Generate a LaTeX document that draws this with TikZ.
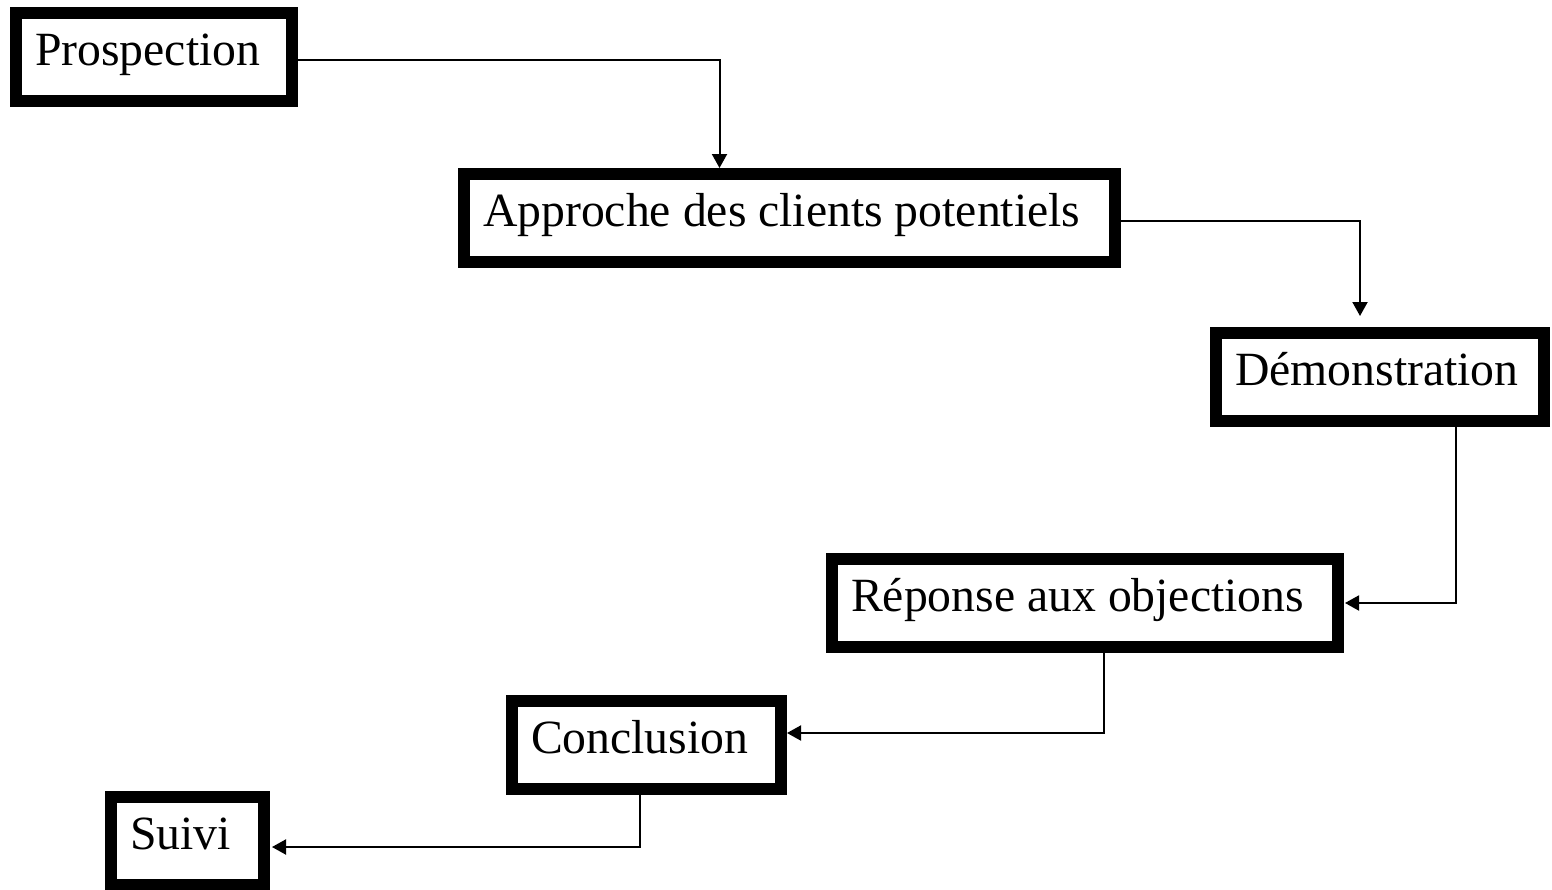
\documentclass[tikz,border=0pt]{standalone}
\usepackage{fontspec}
\setmainfont{Liberation Serif}
\usepackage{tikz}
\usetikzlibrary{arrows.meta}

\begin{document}
\begin{tikzpicture}[x=1pt, y=-1pt,
        etape/.style={draw, line width=12pt, anchor=north west, align=flush left,
            inner xsep=19pt, inner ysep=10pt, text height=42pt, text depth=26pt,
            font=\fontsize{47.7pt}{57pt}\selectfont},
        fleche/.style={line width=2pt, -{Triangle[length=14pt, width=15pt]}}]
    \useasboundingbox (0,0) rectangle (1552,889);
    % les etapes
    \node[etape, text width=238pt] (prosp) at (10,7) {Prospection};
    \node[etape, text width=613pt] (approche) at (458,168) {Approche des clients potentiels};
    \node[etape, text width=290pt] (demo) at (1210,327) {Démonstration};
    \node[etape, text width=468pt] (reponse) at (826,553) {Réponse aux objections};
    \node[etape, text width=231pt] (conclu) at (506,695) {Conclusion};
    \node[etape, text width=115pt] (suivi) at (105,791) {Suivi};
    % liaisons entre etapes
    \draw[fleche] ([yshift=-3pt]prosp.east) -| ([xshift=-70pt]approche.north);
    \draw[fleche, shorten >=11pt] ([yshift=-3pt]approche.east) -| ([xshift=-20pt]demo.north);
    \draw[fleche, shorten >=1pt] ([xshift=76pt]demo.south) |- (reponse.east);
    \draw[fleche] ([xshift=19pt]reponse.south) |- ([yshift=12pt]conclu.east);
    \draw[fleche, shorten >=2pt] ([xshift=-6.5pt]conclu.south) |- ([yshift=-6pt]suivi.east);
\end{tikzpicture}
\end{document}
